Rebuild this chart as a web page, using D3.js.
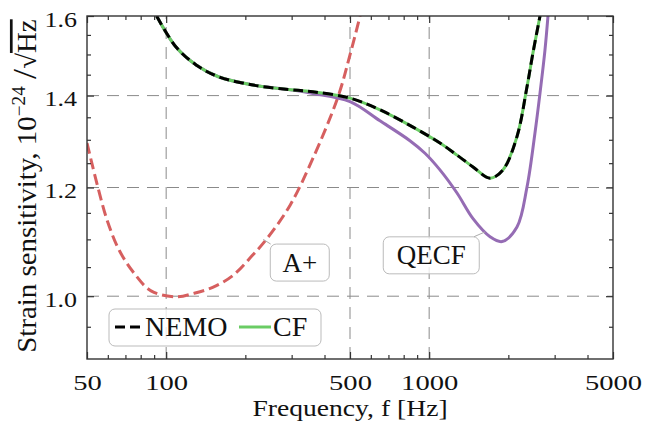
<!DOCTYPE html>
<html>
<head>
<meta charset="utf-8">
<script src="https://cdn.jsdelivr.net/npm/d3@7"></script>
<style>
  body { margin: 0; background: #fff; }
  text { font-family: "Liberation Serif", "Times New Roman", serif; fill: #111; }
</style>
</head>
<body>
<svg id="chart" width="648" height="422"></svg>
<script>
// data (frequency in Hz, strain sensitivity in 1e-24/sqrt(Hz))
const freqAplus = [50, 54.9, 59.9, 66.3, 75.6, 87.6, 109, 127.9, 150.3, 179, 212, 239.6, 296, 362, 450, 500, 546]
const sensAplus = [1.293, 1.202, 1.133, 1.080, 1.039, 1.009, 0.999, 1.005, 1.015, 1.035, 1.070, 1.099, 1.165, 1.261, 1.397, 1.499, 1.6]

const freqNemo = [92, 109, 130, 158, 214, 285, 361, 500, 650, 868, 1099, 1276, 1468, 1704, 1908, 2157, 2355, 2481, 2639]
const sensNemo = [1.6, 1.519, 1.474, 1.445, 1.425, 1.415, 1.409, 1.394, 1.367, 1.328, 1.293, 1.267, 1.242, 1.219, 1.236, 1.307, 1.421, 1.504, 1.6]

// CF sits on top of NEMO
const freqCF = freqNemo
const sensCF = sensNemo

const freqQecf = [92, 109, 130, 158, 214, 285, 361, 500, 650, 845, 964, 1099, 1276, 1468, 1704, 1893, 2157, 2355, 2525, 2639, 2756, 2830]
const sensQecf = [1.6, 1.519, 1.474, 1.445, 1.425, 1.415, 1.405, 1.386, 1.342, 1.298, 1.271, 1.236, 1.189, 1.139, 1.105, 1.096, 1.123, 1.201, 1.315, 1.406, 1.511, 1.6]

const xTickLabels = [50, 100, 500, 1000, 5000]
const xMinorTicks = [60, 70, 80, 90, 200, 300, 400, 600, 700, 800, 900, 2000, 3000, 4000]
const yTickLabels = [1.0, 1.2, 1.4, 1.6]
const yMinorTicks = [0.95, 1.05, 1.1, 1.15, 1.25, 1.3, 1.35, 1.45, 1.5, 1.55]
const xGrid = [100, 500, 1000]
const yGrid = [1.0, 1.2, 1.4]

// couleurs
const cRed = "#d65f5f", cPurple = "#956cb4", cGreen = "#6acc64"

const m = { left: 87, right: 613, top: 16, bottom: 359 }
const svg = d3.select("#chart")

const x = d3.scaleLog().domain([50, 5000]).range([m.left, m.right])
const y = d3.scaleLog().domain([0.9, 1.6]).range([m.bottom, m.top])

svg.append("clipPath").attr("id", "clip")
  .append("rect").attr("x", m.left).attr("y", m.top).attr("width", m.right - m.left).attr("height", m.bottom - m.top)

// grille
const grid = svg.append("g").attr("stroke", "#8a8a8a").attr("stroke-width", 1).attr("stroke-dasharray", "12,8")
grid.selectAll(".gx").data(xGrid).join("line")
  .attr("x1", d => x(d)).attr("x2", d => x(d)).attr("y1", m.bottom).attr("y2", m.top)
grid.selectAll(".gy").data(yGrid).join("line")
  .attr("y1", d => y(d)).attr("y2", d => y(d)).attr("x1", m.left).attr("x2", m.right)

const line = d3.line().curve(d3.curveCatmullRom.alpha(0.5))
const curve = (fs, vs) => line(fs.map((f, i) => [x(f), y(vs[i])]))

const plot = svg.append("g").attr("clip-path", "url(#clip)").attr("fill", "none")
plot.append("path").attr("d", curve(freqAplus, sensAplus))
  .attr("stroke", cRed).attr("stroke-width", 3).attr("stroke-dasharray", "11,5")
plot.append("path").attr("d", curve(freqQecf, sensQecf))
  .attr("stroke", cPurple).attr("stroke-width", 3)
plot.append("path").attr("d", curve(freqCF, sensCF))
  .attr("stroke", cGreen).attr("stroke-width", 3)
plot.append("path").attr("d", curve(freqNemo, sensNemo))
  .attr("stroke", "#000").attr("stroke-width", 3).attr("stroke-dasharray", "10,5")

// axes (ticks inward, on all sides)
function ticks(axis, vals, size, tr) {
  const g = svg.append("g").attr("transform", tr)
    .call(axis.tickValues(vals).tickSize(-size).tickFormat(""))
  g.select(".domain").remove()
  g.selectAll("line").attr("stroke", "#333").attr("stroke-width", 1.2)
  return g
}
ticks(d3.axisBottom(x), xMinorTicks, 4, `translate(0,${m.bottom})`)
ticks(d3.axisTop(x), xMinorTicks, 4, `translate(0,${m.top})`)
ticks(d3.axisBottom(x), xTickLabels, 7, `translate(0,${m.bottom})`)
ticks(d3.axisTop(x), xTickLabels, 7, `translate(0,${m.top})`)
ticks(d3.axisLeft(y), yMinorTicks, 4, `translate(${m.left},0)`)
ticks(d3.axisRight(y), yMinorTicks, 4, `translate(${m.right},0)`)
ticks(d3.axisLeft(y), yTickLabels, 7, `translate(${m.left},0)`)
ticks(d3.axisRight(y), yTickLabels, 7, `translate(${m.right},0)`)

// labels
const xl = svg.append("g").attr("transform", `translate(0,${m.bottom})`)
  .call(d3.axisBottom(x).tickValues(xTickLabels).tickSize(0).tickFormat(d3.format("d")))
xl.select(".domain").remove()
xl.selectAll("text").attr("y", 31).attr("dy", null)
  .attr("transform", "scale(1.3,1)").style("font-size", "22px").attr("fill", "#111")

const yl = svg.append("g").attr("transform", `translate(77,0)`)
  .call(d3.axisLeft(y).tickValues(yTickLabels).tickSize(0).tickPadding(0).tickFormat(d3.format(".1f")))
yl.select(".domain").remove()
yl.selectAll("text").attr("x", 0).attr("dy", null).attr("y", 10)
  .attr("transform", "scale(1.3,1)").style("font-size", "20px").attr("fill", "#111")

svg.append("rect").attr("x", m.left).attr("y", m.top).attr("width", m.right - m.left).attr("height", m.bottom - m.top)
  .attr("fill", "none").attr("stroke", "#333").attr("stroke-width", 1.4)

svg.append("text").attr("transform", "translate(350,416) scale(1.15,1)")
  .attr("text-anchor", "middle").style("font-size", "24px").text("Frequency, f [Hz]")

const ylab = svg.append("text").attr("transform", "translate(36,186) rotate(-90) scale(1.07,1)")
  .attr("text-anchor", "middle").style("font-size", "27px")
ylab.append("tspan").text("Strain sensitivity, 10")
ylab.append("tspan").attr("dy", -11).style("font-size", "18px").text("\u221224")
ylab.append("tspan").attr("dy", 11).text(" ")
ylab.append("tspan").style("font-size", "34px").text("/")
ylab.append("tspan").text("\u221A")
ylab.append("tspan").style("text-decoration", "overline").text("Hz")

// annotations
function annotate(label, f, v, dx, dy, w, h) {
  const ax = x(f), ay = y(v)
  const cx = ax + dx, cy = ay + dy
  const t = Math.min(Math.abs((w / 2) / dx), Math.abs((h / 2) / dy))
  svg.append("line").attr("x1", ax).attr("y1", ay)
    .attr("x2", cx - dx * t).attr("y2", cy - dy * t)
    .attr("stroke", "#aaa").attr("stroke-width", 1)
  svg.append("rect").attr("x", cx - w / 2).attr("y", cy - h / 2).attr("width", w).attr("height", h)
    .attr("rx", 6).attr("fill", "#fff").attr("fill-opacity", 0.8).attr("stroke", "#bbb")
  svg.append("text").attr("x", cx).attr("y", cy + 9).attr("text-anchor", "middle")
    .style("font-size", "27px").text(label)
}
annotate("A+", 234, 1.10, 36.5, 23.2, 59, 37)
annotate("QECF", 1634, 1.114, -54, 23.5, 96, 37)

// légende
const leg = svg.append("g")
leg.append("rect").attr("x", 109).attr("y", 309).attr("width", 212).attr("height", 37)
  .attr("rx", 6).attr("fill", "#fff").attr("fill-opacity", 0.8).attr("stroke", "#bbb")
leg.append("line").attr("x1", 115).attr("x2", 144).attr("y1", 327).attr("y2", 327)
  .attr("stroke", "#000").attr("stroke-width", 3).attr("stroke-dasharray", "10,5")
leg.append("text").attr("x", 145).attr("y", 336).style("font-size", "28px").text("NEMO")
leg.append("line").attr("x1", 239).attr("x2", 271).attr("y1", 327).attr("y2", 327)
  .attr("stroke", cGreen).attr("stroke-width", 3)
leg.append("text").attr("x", 273).attr("y", 336).style("font-size", "28px").text("CF")
</script>
</body>
</html>
